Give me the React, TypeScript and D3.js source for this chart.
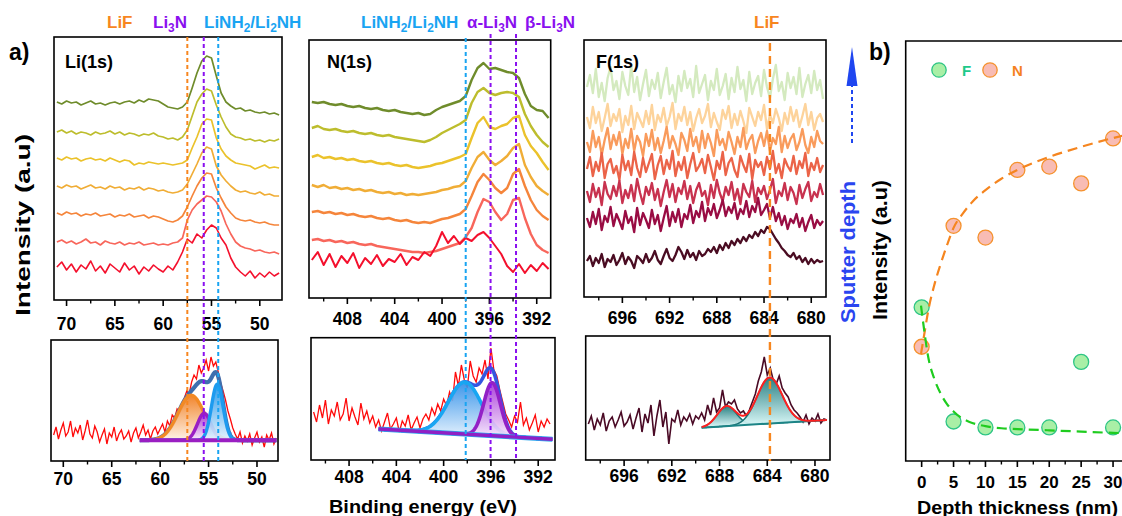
import React from "react";
import * as d3 from "d3";

const FONT = "Arial, 'Liberation Sans', Helvetica, sans-serif";

// ---------------- DATA ----------------
// Top panels: depth-profile spectra (top curve first). Values in arbitrary intensity units.
const liTopStart = 71;
const liTopStep = 0.5;
const liTop: number[][] = [
  [198,196,199,197,198,195,197,199,196,197,195,197,198,196,198,199,197,200,198,201,200,199,196,193,192,191,193,198,212,227,239,244,242,224,207,198,194,191,192,189,190,188,187,188,186,187,185],
  [168,170,167,169,166,168,167,165,168,166,167,169,166,168,165,167,166,164,166,165,167,164,163,161,162,160,163,170,184,198,206,211,209,195,183,173,166,163,162,160,161,159,160,158,160,159,161],
  [142,140,143,141,142,139,141,142,140,141,139,142,140,138,140,139,135,137,136,138,137,136,137,136,135,136,137,140,152,163,176,181,180,162,151,144,140,137,136,135,134,131,133,135,132,133,132],
  [114,112,115,113,114,111,113,115,112,113,111,114,112,113,110,112,111,113,110,112,111,109,110,108,107,108,110,116,126,136,147,153,151,134,125,119,114,110,108,109,107,106,108,105,106,104,104],
  [87,85,88,86,87,84,86,85,87,84,85,86,83,85,84,86,83,84,85,82,84,83,81,79,78,80,84,93,104,114,122,127,126,112,102,93,87,82,80,79,80,78,77,78,76,75,75],
  [58,60,57,59,56,58,61,57,58,55,59,57,56,58,55,57,56,58,55,56,57,55,56,55,57,58,62,80,90,96,100,104,103,98,89,76,66,58,54,52,51,49,50,48,47,48,46],
  [33,38,30,36,28,35,31,39,29,34,27,36,32,28,37,30,34,26,33,29,35,31,28,34,30,38,48,61,57,66,62,70,75,72,62,55,42,33,28,24,29,22,27,23,28,24,27],
];

const nTopStart = 411;
const nTopStep = 0.5;
const nTop: number[][] = [
  [196,195,196,194,193,194,192,191,192,190,189,190,188,187,188,186,185,184,185,183,184,188,191,193,195,197,202,218,230,235,229,230,228,226,225,220,204,192,188,187,180],
  [170,172,169,168,169,167,166,167,165,164,165,163,162,163,161,160,159,158,157,156,158,161,165,168,171,174,178,195,206,210,205,203,205,206,205,201,184,172,163,156,151],
  [141,143,140,141,139,140,138,139,137,136,137,135,134,135,133,132,133,131,130,131,132,134,135,137,139,141,144,160,175,181,171,169,172,174,180,182,163,152,145,136,128],
  [113,111,113,110,111,109,110,108,109,107,108,106,105,106,104,105,103,104,103,104,105,106,108,109,111,112,117,130,141,146,138,133,137,142,150,154,133,121,112,107,103],
  [86,87,85,86,84,85,83,84,82,81,82,80,79,80,78,77,78,76,75,76,75,77,79,80,82,84,89,102,116,124,118,110,105,110,124,129,112,98,88,82,78],
  [58,59,57,58,56,57,55,56,54,53,54,52,51,50,49,48,47,46,46,45,46,47,49,51,53,55,61,70,86,99,96,86,78,84,98,100,80,64,53,48,45],
  [38,46,33,44,31,42,35,45,30,40,34,43,32,39,36,44,33,41,38,46,42,52,66,55,62,54,60,57,63,66,60,52,44,32,26,34,25,33,27,35,29],
];

const fTopStart = 699;
const fTopStep = 0.25;
const fTop: number[][] = [
  [210,222,204,228,200,214,196,219,230,207,216,198,225,211,202,232,205,220,197,213,227,201,217,208,224,199,215,229,203,212,195,221,206,226,209,218,200,231,204,213,222,197,216,207,228,202,211,223,198,219,205,230,208,217,196,225,203,214,221,201,227,210,199,218,232,206,215,197,224,209,220,203,229,200,213,222,204,226,207,217,198],
  [180,169,190,174,185,166,179,193,171,183,176,188,165,181,172,191,168,184,177,170,186,173,192,167,182,175,189,171,180,194,168,183,176,190,172,185,166,179,188,174,181,193,170,184,175,167,187,178,191,169,183,172,186,176,164,189,180,171,185,177,192,168,182,174,188,179,166,184,173,190,176,187,170,181,193,172,185,167,179,183,175],
  [155,145,166,150,160,142,157,169,148,162,152,165,143,158,149,168,146,161,155,141,163,151,167,147,159,144,156,170,149,161,153,142,164,157,146,168,151,160,145,166,149,163,154,141,167,152,158,147,165,155,143,160,150,169,148,157,162,144,156,164,151,166,146,159,153,170,145,161,149,158,163,147,155,168,152,144,160,150,166,156,153],
  [128,140,121,135,126,144,119,133,138,124,131,117,142,127,136,122,145,129,120,139,125,134,143,118,132,141,123,137,128,146,121,135,127,140,119,133,144,126,131,138,124,142,130,117,136,128,145,122,134,139,127,120,141,132,125,143,118,137,130,135,122,140,128,146,124,133,119,138,131,126,141,123,136,129,144,121,134,127,139,125,132],
  [106,95,113,100,109,92,115,103,98,111,101,116,94,107,99,112,96,118,104,93,110,102,114,97,108,91,105,117,100,113,95,109,103,116,98,111,94,107,114,101,106,92,112,99,117,104,96,110,102,115,97,108,93,113,105,100,116,95,109,103,111,98,107,118,94,106,101,114,97,110,104,93,112,99,108,115,96,105,100,113,102],
  [79,70,85,73,88,67,81,75,90,71,83,76,68,86,74,80,65,89,72,84,77,69,87,73,82,66,79,91,71,85,75,88,70,83,78,92,74,86,80,95,76,89,82,93,79,87,97,81,90,84,94,78,88,83,96,80,91,85,99,82,87,93,79,90,76,84,72,81,68,78,74,83,70,79,66,75,82,69,77,72,76],
  [36,41,31,39,34,43,30,38,35,42,32,37,44,33,40,36,29,41,38,34,43,35,39,46,37,33,41,48,39,36,42,50,45,38,47,40,44,37,46,41,43,48,45,50,44,52,47,54,49,56,52,58,54,60,56,62,59,65,61,67,64,70,68,63,58,54,49,46,42,40,44,38,41,35,39,33,38,34,37,35,36],
];

const liNColors = ["#6f8c2b", "#bdbd2d", "#ebc22b", "#f0ad36", "#f5853b", "#f8665b", "#f4102d"];
const fColors = ["#d4eabf", "#fdd39b", "#f99b5c", "#eb6348", "#c8324f", "#990c43", "#4a0c22"];

// Bottom panels: raw spectra (0.25 eV steps)
const rawStep = 0.25;
const liRawStart = 71;
const liRaw = [26,34,22,31,38,25,29,40,24,33,28,36,21,30,41,27,23,35,29,19,26,32,17,28,24,34,20,27,31,22,25,30,19,28,33,23,29,36,26,31,22,30,34,27,32,37,29,40,35,46,43,52,49,58,63,70,67,79,86,82,96,88,93,101,90,104,95,99,89,78,70,61,50,42,33,27,22,29,18,25,20,27,16,23,29,19,24,14,26,21,28,17,23];
const nRawStart = 411;
const nRaw = [48,38,55,42,60,36,50,44,58,40,46,62,39,52,43,35,57,41,49,37,44,33,40,29,38,47,31,36,42,28,39,34,45,30,37,43,32,41,46,40,52,45,56,49,61,54,68,59,88,74,95,80,72,99,84,78,92,86,100,81,112,90,84,70,58,46,40,33,44,38,58,35,42,30,37,45,28,39,33,41,36];
const fRawStart = 699;
const fRaw = [36,44,30,41,35,47,29,39,43,33,40,48,34,38,45,31,42,52,28,46,37,55,24,44,60,33,48,16,41,38,50,35,43,39,46,36,44,41,47,40,55,45,62,48,52,70,53,58,56,60,51,47,49,44,50,58,66,79,88,103,85,92,80,76,84,72,67,63,55,50,47,43,38,45,36,42,39,46,37,41,40];

// Peak fits (centre eV, height, sigma) and linear backgrounds
const liPeakCenter = [56.8, 55.45, 54.1];
const liPeakHeight = [45, 27, 56];
const liPeakSigma = [1.35, 0.7, 0.6];
const liBaseE = [62.1, 48];
const liBaseV = [20.7, 20.7];

const nPeakCenter = [398.2, 395.9];
const nPeakHeight = [52, 53];
const nPeakSigma = [1.4, 0.7];
const nBaseE = [405.5, 390.8];
const nBaseV = [31, 20.7];

const fPeakCenter = [687.4, 683.8];
const fPeakHeight = [20, 46];
const fPeakSigma = [0.8, 1.05];
const fBaseE = [689.5, 679];
const fBaseV = [32.3, 40];

// Reference energies (dashed lines)
const liRefE = [57.5, 55.8, 54.3];
const nRefE = [398.0, 395.9, 393.75];
const fRefE = [683.5];

// Panel b
const depth = [0, 5, 10, 15, 20, 25, 30];
const nIntensity = [27.2, 56.0, 53.2, 69.3, 70.1, 66.1, 76.8];
const fIntensity = [36.6, 9.4, 8.0, 8.0, 8.0, 23.6, 8.0];
const nFitX = [-0.1, 0.5, 1, 2, 3, 4, 5, 6.5, 8, 10, 12.5, 15, 20, 25, 30, 32.5];
const nFitY = [25.5, 31, 35.5, 42, 47, 51.5, 55.5, 59, 61.8, 64.5, 67.2, 69.3, 72.4, 74.8, 76.9, 77.8];
const fFitX = [-0.1, 0.5, 1, 2, 3, 4, 5, 6, 7.5, 10, 12.5, 15, 20, 25, 30, 32.5];
const fFitY = [37, 30, 25, 19.5, 16, 13.5, 11.8, 10.5, 9.3, 8.3, 7.8, 7.6, 7.3, 7.0, 6.7, 6.6];

const liTicks = [70, 65, 60, 55, 50];
const liMinor = [67.5, 62.5, 57.5, 52.5, 47.5];
const nTicks = [408, 404, 400, 396, 392];
const nMinor = [410, 406, 402, 398, 394];
const fTicks = [696, 692, 688, 684, 680];
const fMinor = [698, 694, 690, 686, 682];
const bTicks = [0, 5, 10, 15, 20, 25, 30];
const bMinor = [2.5, 7.5, 12.5, 17.5, 22.5, 27.5];

// ---------------- LAYOUT ----------------
type Box = { x0: number; x1: number; y0: number; y1: number; d: [number, number]; ly: number };
const LI_T: Box = { x0: 54, x1: 282, y0: 37, y1: 300, d: [71.3, 47.7], ly: 330 };
const LI_B: Box = { x0: 51, x1: 278, y0: 340, y1: 461, d: [71.27, 47.83], ly: 485 };
const N_T: Box = { x0: 309, x1: 550.7, y0: 40, y1: 298, d: [411.24, 390.82], ly: 325 };
const N_B: Box = { x0: 311, x1: 555, y0: 337.7, y1: 460, d: [411.22, 390.58], ly: 482.5 };
const F_T: Box = { x0: 584, x1: 826, y0: 40, y1: 297, d: [699.25, 678.75], ly: 324 };
const F_B: Box = { x0: 585.7, x1: 830, y0: 336, y1: 460, d: [699.22, 678.74], ly: 481.5 };

const xScale = (b: Box) => d3.scaleLinear().domain(b.d).range([b.x0, b.x1]);
const yScale = (b: Box) => d3.scaleLinear().domain([0, b.y1 - b.y0]).range([b.y1, b.y0]);

function specPath(vals: number[], start: number, step: number, xs: any, ys: any) {
  return d3.line<number>().x((_, i) => xs(start - step * i)).y((v) => ys(v))(vals) || "";
}

function Frame({ b, xs, majors, minors }: { b: Box; xs: any; majors: number[]; minors: number[] }) {
  return (
    <g>
      <rect x={b.x0} y={b.y0} width={b.x1 - b.x0} height={b.y1 - b.y0} fill="none" stroke="#000" strokeWidth={1.6} />
      {majors.map((t) => (
        <line key={"M" + t} x1={xs(t)} x2={xs(t)} y1={b.y1} y2={b.y1 + 6} stroke="#000" strokeWidth={1.6} />
      ))}
      {minors
        .filter((t) => xs(t) > b.x0 + 1 && xs(t) < b.x1 - 1)
        .map((t) => (
          <line key={"m" + t} x1={xs(t)} x2={xs(t)} y1={b.y1} y2={b.y1 + 3.5} stroke="#000" strokeWidth={1.4} />
        ))}
      {majors.map((t) => (
        <text key={"t" + t} x={xs(t)} y={b.ly} textAnchor="middle" fontSize={17.5} fontWeight="bold" fontFamily={FONT}>
          {t}
        </text>
      ))}
    </g>
  );
}

function fitLayers(xs: any, ys: any, baseE: number[], baseV: number[], centers: number[], heights: number[], sigmas: number[]) {
  const base = d3.scaleLinear().domain(baseE).range(baseV);
  const es = d3.range(0, 401).map((i) => baseE[0] + ((baseE[1] - baseE[0]) * i) / 400);
  const g = (e: number, k: number) => heights[k] * Math.exp(-((e - centers[k]) ** 2) / (2 * sigmas[k] ** 2));
  const comps = centers.map((_, k) => ({
    area: d3.area<number>().x((e) => xs(e)).y0((e) => ys(base(e))).y1((e) => ys(base(e) + g(e, k)))(es) || "",
    line: d3.line<number>().x((e) => xs(e)).y((e) => ys(base(e) + g(e, k)))(es) || "",
  }));
  const env = d3.line<number>().x((e) => xs(e)).y((e) => ys(base(e) + centers.reduce((s, _, k) => s + g(e, k), 0)))(es) || "";
  const baseLine = d3.line<number>().x((e) => xs(e)).y((e) => ys(base(e)))(baseE) || "";
  return { comps, env, baseLine };
}

function Chem({ x, y, parts, color, size = 17 }: { x: number; y: number; parts: [string, boolean][]; color: string; size?: number }) {
  let prevSub = false;
  return (
    <text x={x} y={y} fill={color} fontSize={size} fontWeight="bold" fontFamily={FONT}>
      {parts.map(([t, sub], i) => {
        const dy = sub && !prevSub ? 4 : !sub && prevSub ? -4 : 0;
        prevSub = sub;
        return (
          <tspan key={i} dy={dy} fontSize={sub ? size * 0.7 : size}>
            {t}
          </tspan>
        );
      })}
    </text>
  );
}

const ORANGE = "#f7861f";
const PURPLE = "#8a10ef";
const BLUE = "#19a4f2";

export default function App() {
  const liTx = xScale(LI_T), liTy = yScale(LI_T);
  const liBx = xScale(LI_B), liBy = yScale(LI_B);
  const nTx = xScale(N_T), nTy = yScale(N_T);
  const nBx = xScale(N_B), nBy = yScale(N_B);
  const fTx = xScale(F_T), fTy = yScale(F_T);
  const fBx = xScale(F_B), fBy = yScale(F_B);

  const liFit = fitLayers(liBx, liBy, liBaseE, liBaseV, liPeakCenter, liPeakHeight, liPeakSigma);
  const nFit = fitLayers(nBx, nBy, nBaseE, nBaseV, nPeakCenter, nPeakHeight, nPeakSigma);
  const fFit = fitLayers(fBx, fBy, fBaseE, fBaseV, fPeakCenter, fPeakHeight, fPeakSigma);

  const bx = d3.scaleLinear().domain([-2.5, 32.5]).range([905.7, 905.7 + 35 * 6.38]);
  const by = d3.scaleLinear().domain([0, 100]).range([461, 41]);
  const nFitPath = d3.line<number>().curve(d3.curveMonotoneX).x((_, i) => bx(nFitX[i])).y((v) => by(v))(nFitY) || "";
  const fFitPath = d3.line<number>().curve(d3.curveMonotoneX).x((_, i) => bx(fFitX[i])).y((v) => by(v))(fFitY) || "";

  const liCompFill = ["url(#gOrange)", "url(#gPurple)", "url(#gBlue)"];
  const liCompStroke = ["#f28a25", "#9a1fc4", "#1d9bef"];
  const nCompFill = ["url(#gBlue2)", "url(#gPurple)"];
  const nCompStroke = ["#18a6f2", "#9321c6"];

  return (
    <svg width={1122} height={516} style={{ position: "absolute", left: 0, top: 0, background: "#fff" }} fontFamily={FONT}>
      <defs>
        <linearGradient id="gOrange" x1="0" y1="0" x2="0" y2="1">
          <stop offset="0" stopColor="#f07a1a" />
          <stop offset="1" stopColor="#fff3e6" />
        </linearGradient>
        <linearGradient id="gPurple" x1="0" y1="0" x2="0" y2="1">
          <stop offset="0" stopColor="#a535d8" />
          <stop offset="1" stopColor="#fbeefe" />
        </linearGradient>
        <linearGradient id="gBlue" x1="0" y1="0" x2="0" y2="1">
          <stop offset="0" stopColor="#1a93ea" />
          <stop offset="1" stopColor="#e6f3fd" />
        </linearGradient>
        <linearGradient id="gBlue2" x1="0" y1="0" x2="0" y2="1">
          <stop offset="0" stopColor="#2a8ce8" />
          <stop offset="1" stopColor="#eaf5fe" />
        </linearGradient>
        <linearGradient id="gTeal" x1="0" y1="0" x2="0" y2="1">
          <stop offset="0" stopColor="#1f7a7c" />
          <stop offset="1" stopColor="#e0fdfd" />
        </linearGradient>
        <clipPath id="clipB">
          <rect x={905.7} y={41} width={230} height={420} />
        </clipPath>
      </defs>

      {/* ---------- headers ---------- */}
      <text x={9} y={60} fontSize={23} fontWeight="bold">a)</text>
      <text x={869} y={60} fontSize={23} fontWeight="bold">b)</text>
      <Chem x={107} y={28} color={ORANGE} parts={[["LiF", false]]} />
      <Chem x={153} y={28} color={PURPLE} parts={[["Li", false], ["3", true], ["N", false]]} />
      <Chem x={204} y={28} color={BLUE} parts={[["LiNH", false], ["2", true], ["/Li", false], ["2", true], ["NH", false]]} />
      <Chem x={361} y={28} color={BLUE} parts={[["LiNH", false], ["2", true], ["/Li", false], ["2", true], ["NH", false]]} />
      <Chem x={467} y={28} color={PURPLE} parts={[["α-Li", false], ["3", true], ["N", false]]} />
      <Chem x={525} y={28} color={PURPLE} parts={[["β-Li", false], ["3", true], ["N", false]]} />
      <Chem x={754} y={28} color={ORANGE} parts={[["LiF", false]]} />

      {/* ---------- Li top ---------- */}
      {liTop.map((vals, k) => (
        <path key={"lt" + k} d={specPath(vals, liTopStart, liTopStep, liTx, liTy)} fill="none" stroke={liNColors[k]} strokeWidth={k === 6 ? 1.6 : 1.7} strokeLinejoin="round" />
      ))}
      <Frame b={LI_T} xs={liTx} majors={liTicks} minors={liMinor} />
      <text x={65} y={68} fontSize={18} fontWeight="bold">Li(1s)</text>

      {/* ---------- N top ---------- */}
      {nTop.map((vals, k) => (
        <path key={"nt" + k} d={specPath(vals, nTopStart, nTopStep, nTx, nTy)} fill="none" stroke={liNColors[k]} strokeWidth={k === 6 ? 2 : 2.4} strokeLinejoin="round" />
      ))}
      <Frame b={N_T} xs={nTx} majors={nTicks} minors={nMinor} />
      <text x={327} y={68} fontSize={18} fontWeight="bold">N(1s)</text>

      {/* ---------- F top ---------- */}
      {fTop.map((vals, k) => (
        <path key={"ft" + k} d={specPath(vals, fTopStart, fTopStep, fTx, fTy)} fill="none" stroke={fColors[k]} strokeWidth={2.3} strokeLinejoin="round" />
      ))}
      <Frame b={F_T} xs={fTx} majors={fTicks} minors={fMinor} />
      <text x={596} y={68} fontSize={18} fontWeight="bold">F(1s)</text>

      {/* ---------- Li bottom ---------- */}
      <path d={specPath(liRaw, liRawStart, rawStep, liBx, liBy)} fill="none" stroke="#ff0a0a" strokeWidth={1.3} />
      <path d={liFit.env} fill="none" stroke="#3f6fae" strokeWidth={4.2} />
      {liFit.comps.map((c, k) => (
        <g key={"lc" + k}>
          <path d={c.area} fill={liCompFill[k]} opacity={0.92} />
          <path d={c.line} fill="none" stroke={liCompStroke[k]} strokeWidth={3.4} />
        </g>
      ))}
      <path d={liFit.baseLine} fill="none" stroke="#9a1fc2" strokeWidth={4} />
      <Frame b={LI_B} xs={liBx} majors={liTicks} minors={liMinor} />

      {/* ---------- N bottom ---------- */}
      <path d={specPath(nRaw, nRawStart, rawStep, nBx, nBy)} fill="none" stroke="#ff0a0a" strokeWidth={1.3} />
      <path d={nFit.env} fill="none" stroke="#3457e0" strokeWidth={3.6} />
      {nFit.comps.map((c, k) => (
        <g key={"nc" + k}>
          <path d={c.area} fill={nCompFill[k]} opacity={0.92} />
          <path d={c.line} fill="none" stroke={nCompStroke[k]} strokeWidth={3.6} />
        </g>
      ))}
      <path d={nFit.baseLine} fill="none" stroke="#2aa6ee" strokeWidth={5} />
      <path d={nFit.baseLine} fill="none" stroke="#9020c4" strokeWidth={3.4} />
      <Frame b={N_B} xs={nBx} majors={nTicks} minors={nMinor} />

      {/* ---------- F bottom ---------- */}
      <path d={specPath(fRaw, fRawStart, rawStep, fBx, fBy)} fill="none" stroke="#4a0a25" strokeWidth={1.6} />
      {fFit.comps.map((c, k) => (
        <g key={"fc" + k}>
          <path d={c.area} fill="url(#gTeal)" opacity={0.95} />
          <path d={c.line} fill="none" stroke="#1c7375" strokeWidth={1.5} />
        </g>
      ))}
      <path d={fFit.baseLine} fill="none" stroke="#1c8486" strokeWidth={2} />
      <path d={fFit.env} fill="none" stroke="#ff2020" strokeWidth={2} />
      <Frame b={F_B} xs={fBx} majors={fTicks} minors={fMinor} />

      {/* ---------- reference dashed lines ---------- */}
      {liRefE.map((e, k) => (
        <line key={"lr" + k} x1={liTx(e)} x2={liTx(e)} y1={37} y2={461} stroke={[ORANGE, PURPLE, BLUE][k]} strokeWidth={2} strokeDasharray="4 3" />
      ))}
      {nRefE.map((e, k) => (
        <line key={"nr" + k} x1={nTx(e)} x2={nTx(e)} y1={k === 0 ? 38 : 34} y2={460} stroke={[BLUE, PURPLE, PURPLE][k]} strokeWidth={2} strokeDasharray="4 3" />
      ))}
      {fRefE.map((e, k) => (
        <line key={"fr" + k} x1={fTx(e)} x2={fTx(e)} y1={43} y2={461} stroke={ORANGE} strokeWidth={2.4} strokeDasharray="8 5" />
      ))}

      {/* ---------- axis titles ---------- */}
      <text transform="translate(29.5,225) rotate(-90)" textAnchor="middle" fontSize={20} fontWeight="bold" textLength={182} lengthAdjust="spacingAndGlyphs">Intensity (a.u)</text>
      <text x={423} y={513} textAnchor="middle" fontSize={18.5} fontWeight="bold" textLength={188} lengthAdjust="spacingAndGlyphs">Binding energy (eV)</text>

      {/* sputter depth arrow */}
      <line x1={852} x2={852} y1={143} y2={86} stroke="#1f46f0" strokeWidth={2} strokeDasharray="4 3" />
      <polygon points="852,47 846.5,86 857.5,86" fill="#1f46f0" />
      <text transform="translate(854.5,252) rotate(-90)" textAnchor="middle" fontSize={19.5} fontWeight="bold" fill="#2a45f0" textLength={142} lengthAdjust="spacingAndGlyphs">Sputter depth</text>

      {/* ---------- panel b ---------- */}
      <path d={`M1125,41 H905.7 V461 H1125`} fill="none" stroke="#000" strokeWidth={1.6} />
      {bTicks.map((t) => (
        <g key={"bt" + t}>
          <line x1={bx(t)} x2={bx(t)} y1={461} y2={467} stroke="#000" strokeWidth={1.6} />
          <text x={bx(t)} y={488} textAnchor="middle" fontSize={17} fontWeight="bold">{t}</text>
        </g>
      ))}
      {bMinor.map((t) => (
        <line key={"bm" + t} x1={bx(t)} x2={bx(t)} y1={461} y2={464.5} stroke="#000" strokeWidth={1.4} />
      ))}
      <g clipPath="url(#clipB)">
        {depth.map((d, i) => (
          <circle key={"np" + i} cx={bx(d)} cy={by(nIntensity[i])} r={7.5} fill="#f8bcb4" stroke="#f5922e" strokeWidth={1.3} />
        ))}
        {depth.map((d, i) => (
          <circle key={"fp" + i} cx={bx(d)} cy={by(fIntensity[i])} r={7.5} fill="#a9efa6" stroke="#2ec585" strokeWidth={1.3} />
        ))}
        <path d={nFitPath} fill="none" stroke="#f5851f" strokeWidth={2.2} strokeDasharray="10 6" />
        <path d={fFitPath} fill="none" stroke="#1fcc1f" strokeWidth={2.2} strokeDasharray="10 6" />
      </g>
      <circle cx={939} cy={70} r={7.2} fill="#a9efa6" stroke="#2ec585" strokeWidth={1.3} />
      <text x={962} y={76} fontSize={15} fontWeight="bold" fill="#1ec98a">F</text>
      <circle cx={990} cy={70} r={7.2} fill="#f8bcb4" stroke="#f5922e" strokeWidth={1.3} />
      <text x={1012} y={76} fontSize={15} fontWeight="bold" fill="#f5821f">N</text>
      <text transform="translate(886.6,250) rotate(-90)" textAnchor="middle" fontSize={19.5} fontWeight="bold" textLength={140} lengthAdjust="spacingAndGlyphs">Intensity (a.u)</text>
      <text x={917} y={513.5} fontSize={18.5} fontWeight="bold" textLength={201} lengthAdjust="spacingAndGlyphs">Depth thickness (nm)</text>
    </svg>
  );
}
